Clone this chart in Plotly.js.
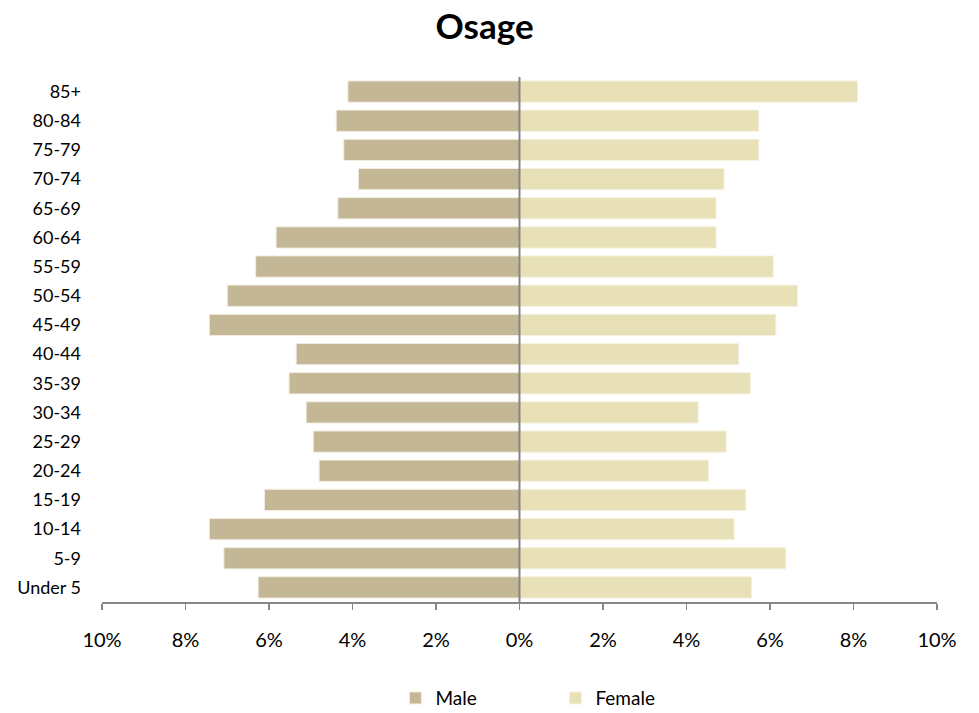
<!DOCTYPE html>
<html>
<head>
<meta charset="utf-8">
<script src="https://cdn.plot.ly/plotly-3.0.1.min.js"></script>
<style>html,body{margin:0;padding:0;background:#fff;}#chart{width:979px;height:713px;}</style>
</head>
<body>
<div id="chart"></div>
<script>
const ageGroups = ["Under 5","5-9","10-14","15-19","20-24","25-29","30-34","35-39","40-44","45-49","50-54","55-59","60-64","65-69","70-74","75-79","80-84","85+"];
const malePct = [6.26,7.08,7.43,6.11,4.80,4.94,5.11,5.52,5.35,7.43,7.00,6.32,5.83,4.35,3.86,4.21,4.39,4.11];
const femalePct = [5.56,6.38,5.14,5.42,4.53,4.95,4.28,5.53,5.25,6.14,6.66,6.08,4.71,4.71,4.90,5.73,5.73,8.10];
const tickValues = [-10,-8,-6,-4,-2,0,2,4,6,8,10];
const tickLabels = ["10%","8%","6%","4%","2%","0%","2%","4%","6%","8%","10%"];

const font = "Lato, 'Open Sans', sans-serif";
const traces = [
  {type:"bar", orientation:"h", name:"Male", y:ageGroups, x:malePct.map(v=>-v),
   marker:{color:"#C4B796", line:{color:"#F2EEE2", width:1}}},
  {type:"bar", orientation:"h", name:"Female", y:ageGroups, x:femalePct,
   marker:{color:"#E8E1B8", line:{color:"#F5F2E0", width:1}}}
];
const layout = {
  width:979, height:713,
  margin:{l:102, r:42, t:77, b:111, autoexpand:false},
  paper_bgcolor:"#fff", plot_bgcolor:"#fff",
  barmode:"overlay", bargap:0.27,
  font:{family:font, color:"#000", size:16},
  title:{text:"<b>Osage</b>", font:{family:font, size:35, color:"#000"}, x:0.495, xref:"container", y:1-27/713, yref:"container", yanchor:"middle"},
  xaxis:{range:[-10,10], tickvals:tickValues, ticktext:tickLabels, showgrid:false, zeroline:false, automargin:false,
         showline:true, linecolor:"#868686", linewidth:1.5, ticks:"outside", ticklen:6, tickcolor:"#868686", tickwidth:1.5,
         ticklabelstandoff:13, tickfont:{size:20, family:font}, fixedrange:true},
  yaxis:{showgrid:false, zeroline:false, showline:false, ticks:"", ticklabelstandoff:20, automargin:false,
         tickfont:{size:18, family:font}, type:"category", fixedrange:true},
  shapes:[{type:"line", xref:"x", yref:"paper", x0:0, x1:0, y0:0, y1:1, line:{color:"#868686", width:2}, layer:"above"}],
  showlegend:true,
  legend:{orientation:"h", x:0.543, xanchor:"center", y:-0.183, yanchor:"middle", font:{size:19, family:font}, entrywidth:115, traceorder:"normal"}
};
Plotly.newPlot("chart", traces, layout, {displayModeBar:false, staticPlot:true});
</script>
</body>
</html>
